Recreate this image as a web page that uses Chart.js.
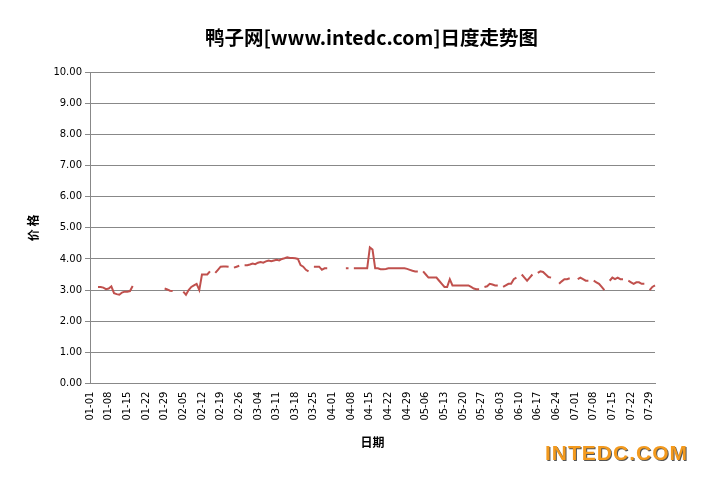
<!DOCTYPE html>
<html>
<head>
<meta charset="utf-8">
<script src="https://cdn.jsdelivr.net/npm/chart.js@4/dist/chart.umd.min.js"></script>
<style>
  body { margin: 0; background: #fff; }
  #wrap { position: relative; width: 706px; height: 478px; }
  #title { position: absolute; left: 88px; width: 567px; top: 22px; text-align: center;
           font: bold 19.5px "Noto Sans CJK SC", sans-serif; color: #000; }
  #brand { position: absolute; left: 545px; top: 441px; font: bold 21px "Liberation Sans", Arial, sans-serif;
           color: #f39a1e; text-shadow: 1px 1px 0 #555; letter-spacing: 1px; }
</style>
</head>
<body>
<div id="wrap">
  <canvas id="c" width="706" height="478"></canvas>
  <div id="title">鸭子网[www.intedc.com]日度走势图</div>
  <div id="brand">INTEDC.COM</div>
</div>
<script>
// daily prices, 2012-01-01 .. 2012-07-31, null = no quote
const jan = [null,null,null,3.10,3.10,3.08,3.03,3.05,3.12,2.90,2.87,2.85,2.92,2.95,2.95,2.97,3.13,
  null,null,null,null,null,null,null,null,null,null,null,3.05,3.02,2.98];
const feb = [2.97,null,null,null,2.95,2.85,3.00,3.10,3.15,3.20,3.00,3.50,3.50,3.50,3.60,null,
  3.55,3.65,3.75,3.76,3.76,3.75,null,3.72,3.75,3.78,null,3.80,3.80];
const mar = [3.82,3.85,3.83,3.88,3.90,3.88,3.92,3.95,3.93,3.95,3.97,3.95,4.00,4.02,4.05,4.03,4.03,
  4.02,4.00,3.80,3.75,3.65,3.60,null,3.75,3.75,3.75,3.65,3.70,3.70,null];
const apr = [null,null,null,null,null,3.70,3.70,null,3.70,3.70,3.70,3.70,3.70,3.70,4.37,4.30,
  3.70,3.70,3.67,3.67,3.68,3.70,3.70,3.70,3.70,3.70,3.70,3.70,3.68,3.65];
const may = [3.62,3.60,3.60,null,3.60,3.50,3.40,3.40,3.40,3.40,3.30,3.20,3.10,3.10,3.35,3.15,
  3.15,3.15,3.15,3.15,3.15,3.15,3.10,3.05,3.03,3.03,null,3.10,3.12,3.20,3.18];
const jun = [3.15,3.15,null,3.10,3.15,3.20,3.20,3.35,3.40,null,3.50,3.40,3.30,3.40,3.50,null,
  3.55,3.60,3.58,3.50,3.42,3.40,null,null,3.20,3.28,3.35,3.35,3.38,null];
const jul = [null,3.35,3.40,3.35,3.30,3.30,null,3.30,3.25,3.20,3.10,3.00,null,3.30,3.40,3.35,
  3.40,3.35,3.35,null,3.30,3.25,3.20,3.25,3.25,3.20,3.20,null,3.00,3.10,3.15];
const prices = [].concat(jan, feb, mar, apr, may, jun, jul);

const monthDays = [31, 29, 31, 30, 31, 30, 31];
const dayLabels = [];
monthDays.forEach((n, m) => {
  for (let d = 1; d <= n; d++) dayLabels.push(String(m + 1).padStart(2, "0") + "-" + String(d).padStart(2, "0"));
});

const yTicks = [0, 1, 2, 3, 4, 5, 6, 7, 8, 9, 10];

new Chart(document.getElementById("c"), {
  type: "line",
  data: {
    labels: dayLabels,
    datasets: [{
      data: prices,
      borderColor: "#c0504d",
      borderWidth: 2,
      pointRadius: 0,
      spanGaps: false,
      tension: 0
    }]
  },
  options: {
    responsive: false,
    animation: false,
    layout: { padding: { left: 22, right: 51, top: 72, bottom: 24 } },
    plugins: {
      legend: { display: false },
      tooltip: { enabled: false }
    },
    scales: {
      x: {
        offset: false,
        grid: { display: false, drawTicks: true, tickLength: 5, color: "#888" },
        border: { color: "#888" },
        ticks: {
          autoSkip: false,
          maxRotation: 90,
          minRotation: 90,
          color: "#000",
          font: { size: 10, family: "'DejaVu Sans', sans-serif" },
          callback: (v, i) => (i % 7 === 0 ? dayLabels[i] : null)
        },
        title: {
          display: true,
          text: "日期",
          color: "#000",
          font: { size: 12, weight: "bold", family: "'Noto Sans CJK SC', sans-serif" },
          padding: { top: 12 }
        }
      },
      y: {
        min: 0,
        max: 10,
        afterBuildTicks: ax => { ax.ticks = yTicks.map(v => ({ value: v })); },
        grid: { color: "#888", tickLength: 5 },
        border: { color: "#888" },
        ticks: {
          color: "#000",
          font: { size: 10, family: "'DejaVu Sans', sans-serif" },
          callback: v => v.toFixed(2)
        },
        title: {
          display: true,
          text: "价 格",
          color: "#000",
          font: { size: 12, weight: "bold", family: "'Noto Sans CJK SC', sans-serif" },
          padding: { bottom: 10 }
        }
      }
    }
  }
});
</script>
</body>
</html>
